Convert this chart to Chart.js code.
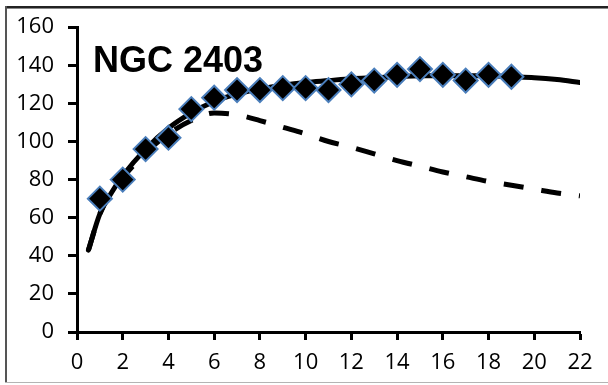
<!DOCTYPE html>
<html>
<head>
<meta charset="utf-8">
<script src="https://cdn.jsdelivr.net/npm/chart.js@4/dist/chart.umd.min.js"></script>
<style>
  html, body { margin: 0; padding: 0; background: #fff; overflow: hidden; }
</style>
</head>
<body>
<canvas id="rotationChart" width="608" height="385"></canvas>
<script>
const title = 'NGC 2403';

// observed rotation velocities (diamonds)
const obsRadius = [1, 2, 3, 4, 5, 6, 7, 8, 9, 10, 11, 12, 13, 14, 15, 16, 17, 18, 19];
const obsVelocity = [70, 80, 96, 102, 117, 123, 127, 127, 128, 128, 127, 130, 132, 135, 138, 135, 132, 135, 134];

// model curves
const modelRadius = [0.5, 1, 1.5, 2, 3, 4, 5, 6, 7, 8, 9, 10, 11, 12, 13, 14, 15, 16, 17, 18, 19, 20, 21, 22];
const totalVelocity = [43, 62, 73, 82, 96, 107, 115, 121, 125, 127.5, 129.5, 131, 132, 133, 133.5, 134, 134.5, 134.5, 134.5, 134.5, 134, 133.5, 132.5, 131];
const diskVelocity = [43, 62, 73, 81, 94, 104, 111, 115, 114, 111, 107.5, 104, 100, 97, 93.5, 90, 87, 84, 81.5, 79, 77, 75, 73, 71.5];

const toPoints = (xs, ys) => xs.map((x, i) => ({ x: x, y: ys[i] }));

// outer frame (cut off on the right like the original) and the galaxy name
const decorPlugin = {
  id: 'decor',
  beforeDraw(chart) {
    const c = chart.ctx;
    c.save();
    c.fillStyle = '#fff';
    c.fillRect(0, 0, chart.width, chart.height);
    c.fillStyle = '#222';
    c.fillRect(5, 6, chart.width - 5, 2);
    c.fillStyle = '#888';
    c.fillRect(5, 8, chart.width - 5, 1);
    c.fillStyle = '#555';
    c.fillRect(5, 6, 2, 377);
    c.fillStyle = '#b4b4b4';
    c.fillRect(5, 382, chart.width - 5, 1);
    c.restore();
  },
  afterDatasetsDraw(chart) {
    const { ctx, chartArea } = chart;
    ctx.save();
    ctx.font = 'bold 36px "Liberation Sans", Arial, sans-serif';
    ctx.fillStyle = '#000';
    ctx.textBaseline = 'alphabetic';
    ctx.fillText(title, chartArea.left + 16, chartArea.top + 45);
    ctx.restore();
  }
};

const tickFont = { family: '"Open Sans", sans-serif', size: 22 };

const ctx = document.getElementById('rotationChart');
new Chart(ctx, {
  type: 'scatter',
  data: {
    datasets: [
      {
        label: 'Observed',
        data: toPoints(obsRadius, obsVelocity),
        pointStyle: 'rectRot',
        pointRadius: 12,
        pointBackgroundColor: '#000',
        pointBorderColor: '#4a7ebb',
        pointBorderWidth: 2,
        showLine: false,
        order: 0
      },
      {
        label: 'Total',
        data: toPoints(modelRadius, totalVelocity),
        showLine: true,
        borderColor: '#000',
        borderWidth: 5,
        pointRadius: 0,
        cubicInterpolationMode: 'monotone',
        borderCapStyle: 'round',
        order: 1
      },
      {
        label: 'Disk',
        data: toPoints(modelRadius, diskVelocity),
        showLine: true,
        borderColor: '#000',
        borderWidth: 5,
        borderDash: [20, 18],
        pointRadius: 0,
        cubicInterpolationMode: 'monotone',
        order: 2
      }
    ]
  },
  options: {
    responsive: false,
    animation: false,
    layout: { padding: { top: 25, right: 28, left: 0, bottom: 0 } },
    plugins: { legend: { display: false }, tooltip: { enabled: false } },
    scales: {
      x: {
        type: 'linear',
        min: 0,
        max: 22,
        ticks: { stepSize: 2, color: '#000', padding: 10, font: tickFont },
        grid: { drawOnChartArea: false, tickLength: 8, tickWidth: 3, tickColor: '#000' },
        border: { width: 3, color: '#000' },
        afterFit(scale) { scale.height = 53; }
      },
      y: {
        min: 0,
        max: 160,
        ticks: { stepSize: 20, color: '#000', padding: 14, font: tickFont },
        grid: { drawOnChartArea: false, tickLength: 9, tickWidth: 3, tickColor: '#000' },
        border: { width: 3, color: '#000' },
        afterFit(scale) { scale.width = 77; }
      }
    }
  },
  plugins: [decorPlugin]
});
</script>
</body>
</html>
